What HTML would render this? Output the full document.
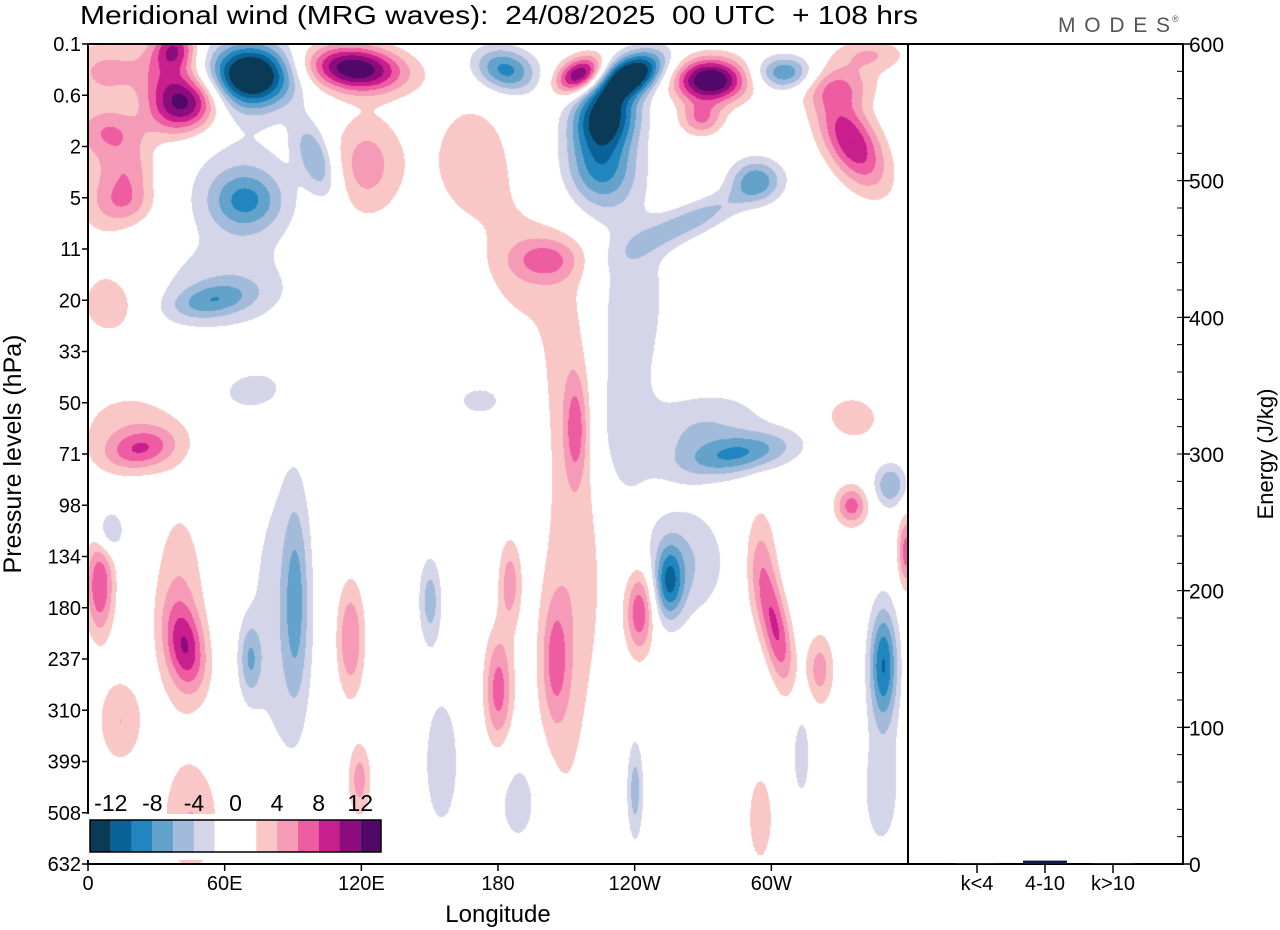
<!DOCTYPE html>
<html><head><meta charset="utf-8">
<style>
body{margin:0;background:#fff;font-family:"Liberation Sans",sans-serif;}
#wrap{position:relative;width:1280px;height:930px;overflow:hidden;}
canvas{position:absolute;left:88px;top:44px;}
svg{position:absolute;left:0;top:0;}
</style></head><body>
<div id="wrap">
<canvas id="cv" width="820" height="820"></canvas>
<svg id="sv" width="1280" height="930"></svg>
</div>
<script>
// ---- data ----
const pressureLabels=['0.1','0.6','2','5','11','20','33','50','71','98','134','180','237','310','399','508','632'];
const lonTickValues=[0,60,120,180,240,300];
const lonTickLabels=['0','60E','120E','180','120W','60W'];
const energyTicks=[0,100,200,300,400,500,600];
const energyCats=['k<4','4-10','k>10'];
const energyVals=[0.4,2.5,0.4];
const cbarLabels=['-12','-8','-4','0','4','8','12'];
const cbarLevels=[-12,-8,-4,0,4,8,12];
// wave anomaly centres: longitude (deg), level index, amplitude (m/s), width (deg), height (levels), tilt (deg)
const blobLon=[71,117,43,38,34,10,10,183,216,238,227,225,273,269,306,335,330,343,293,264,100,69,67,122,18,16,5,168,201,190,210,214,216,207,54,58,10,240,234,286,269,23,18,71,172,335,335,352,5,43,40,9,71,91,84,115,150,180,185,205,242,255,262,302,295,349,321,359,240,119,45,190,295,348,313,155,14];
const blobLev=[0.6,0.47,1.15,0.08,0.6,0.5,1.7,0.5,0.6,0.6,1.4,2.35,0.7,1.45,0.55,1.9,0.8,0.2,2.65,3.45,2.25,3.05,2.85,2.35,2.45,3.1,2.45,2.25,4.2,4.4,6.2,7.5,9.9,12.8,5.0,4.8,5.1,4.8,7.3,8.0,7.5,7.9,7.5,6.75,6.95,7.3,9.0,8.6,10.55,11.8,11.0,9.5,12.0,10.85,11.2,11.6,10.85,12.6,10.5,12.0,11.05,10.5,10.1,11.45,10.1,12.1,12.2,9.9,14.55,14.35,15.1,14.75,15.1,14.55,13.8,14.0,13.2];
const blobAmp=[-17,14,12,8,4,4,4,-9,13,-16,-12,-9,15,6,-8,10,5,4,-7,-5,-6,-6,-3,5,4,4,2.5,3,5,2.5,2.5,5,2.5,2.5,-5,-3,3,-3,-3,-7,-4,6,3,-3,-3,3,7,-6,8,7,4,-5,-5,-5,-3,6,-5,7,5,4.5,8,-8,-4,8,4,-10,5,7,-5,5,4,-3,3,-3,-3,-3,4];
const blobW=[13,15,11,6.6,8,15,11,10,8,11,10,11,11,6.6,9,8,11,11,8,20,5.3,11,18,11,8,9,11,15,11,13,9,3.5,10,9,13,22,11,11,9,18,20,11,18,10,8,11,5,5,4.4,6,8,4.4,3.5,4,11,4.4,3.5,4.4,3.5,4,4.4,4.4,13,4.4,5,4.4,4.4,2.6,2.6,3.5,9,9,5,7,3.5,7,7];
const blobH=[0.43,0.31,0.39,0.29,0.5,0.4,0.3,0.3,0.23,0.27,0.4,0.6,0.3,0.23,0.23,0.7,0.3,0.23,0.3,0.23,0.55,0.4,1.0,0.7,0.4,0.3,1.2,1.0,0.3,1.0,1.6,0.7,2.0,2.3,0.23,0.6,0.5,1.2,1.4,0.27,0.5,0.27,0.6,0.27,0.23,0.4,0.27,0.3,0.7,0.6,1.4,0.3,0.5,1.4,2.3,0.8,0.6,0.8,0.6,0.8,0.6,0.5,0.8,0.8,0.8,0.8,0.5,0.5,0.7,0.5,0.8,0.8,0.8,1.0,0.8,1.2,0.6];
const blobTilt=[0,5,-20,0,0,0,0,15,-25,-25,-30,0,0,0,0,-30,0,0,0,-25,-20,0,0,0,0,0,0,0,0,0,0,0,0,0,-10,0,0,0,0,-10,-10,-10,0,-10,0,0,0,0,0,-10,0,0,0,0,0,0,0,0,0,0,0,0,0,-10,0,0,0,0,0,0,0,0,0,0,0,0,0];

// ---- axes ----
const X0=88,X1=908,Y0=44,Y1=864;
const xLon=l=>X0+l*(X1-X0)/360;
const yLev=v=>Y0+v*(Y1-Y0)/16;
const ER0=908,ER1=1183;
const yE=e=>Y1-e*(Y1-Y0)/600;
const colors=['#0b3a56','#0a6398','#2185bf','#63a2cb','#a2bbdb','#d4d5e8','#ffffff','#f9c8c6','#f69bb7','#ee5da2','#c91e8d','#8c0c7d','#520868'];
function colorIdx(v){
  if(v<-12)return 0;if(v<-10)return 1;if(v<-8)return 2;if(v<-6)return 3;if(v<-4)return 4;if(v<-2)return 5;
  if(v<2)return 6;if(v<4)return 7;if(v<6)return 8;if(v<8)return 9;if(v<10)return 10;if(v<12)return 11;return 12;}
const rgb=colors.map(c=>[parseInt(c.substr(1,2),16),parseInt(c.substr(3,2),16),parseInt(c.substr(5,2),16)]);

// field
const cv=document.getElementById('cv');const ctx=cv.getContext('2d');
const W=820,H=820;const img=ctx.createImageData(W,H);
const field=new Float32Array(W*H);
for(let b=0;b<blobLon.length;b++){
  const cx=xLon(blobLon[b])-X0, cy=yLev(blobLev[b])-Y0;
  const sx=blobW[b]*(X1-X0)/360, sy=blobH[b]*(Y1-Y0)/16;
  const t=blobTilt[b]*Math.PI/180, c=Math.cos(t), s=Math.sin(t);
  const R=4*Math.max(sx,sy);
  const xa=Math.max(0,Math.floor(cx-R)),xb=Math.min(W-1,Math.ceil(cx+R));
  const ya=Math.max(0,Math.floor(cy-R)),yb=Math.min(H-1,Math.ceil(cy+R));
  for(let y=ya;y<=yb;y++)for(let x=xa;x<=xb;x++){
    const dx=x-cx,dy=y-cy;const u=(dx*c+dy*s)/sx,w=(-dx*s+dy*c)/sy;
    const e=0.5*(u*u+w*w);if(e<9)field[y*W+x]+=blobAmp[b]*Math.exp(-e);
  }
}
for(let i=0;i<W*H;i++){const k=rgb[colorIdx(field[i])];img.data[i*4]=k[0];img.data[i*4+1]=k[1];img.data[i*4+2]=k[2];img.data[i*4+3]=255;}
ctx.putImageData(img,0,0);

// svg
const NS='http://www.w3.org/2000/svg';const sv=document.getElementById('sv');
function el(tag,attrs,txt){const e=document.createElementNS(NS,tag);for(const k in attrs)e.setAttribute(k,attrs[k]);if(txt!==undefined)e.textContent=txt;sv.appendChild(e);return e;}
let e;
e=el('text',{x:80,y:24,'font-size':26,style:'white-space:pre',textLength:838,lengthAdjust:'spacingAndGlyphs'},'Meridional wind (MRG waves):  24/08/2025  00 UTC  + 108 hrs');


e=el('text',{x:1058,y:32,'font-size':21,fill:'#555',textLength:112},'MODES');


e=el('text',{x:1172,y:22,'font-size':9,fill:'#555'},'®');


// frames
e=el('rect',{x:X0,y:Y0,width:X1-X0,height:Y1-Y0,fill:'none',stroke:'#000','stroke-width':2});


e=el('rect',{x:ER0,y:Y0,width:ER1-ER0,height:Y1-Y0,fill:'none',stroke:'#000','stroke-width':2});


// y ticks
pressureLabels.forEach((p,i)=>{
  const y=yLev(i);
  e=el('line',{x1:X0-6,x2:X0,y1:y,y2:y,stroke:'#000','stroke-width':1.5});
  
  
  e=el('text',{x:81,y:y+7,'font-size':20,'text-anchor':'end'},p);
  
  
});
lonTickValues.forEach((l,i)=>{
  const x=xLon(l);
  e=el('line',{x1:x,x2:x,y1:Y1,y2:Y1+7,stroke:'#000','stroke-width':1.5});
  
  
  e=el('text',{x:x,y:Y1+26,'font-size':20,'text-anchor':'middle'},lonTickLabels[i]);
  
  
});
e=el('text',{x:498,y:922,'font-size':24,'text-anchor':'middle'},'Longitude');


e=el('text',{x:0,y:0,'font-size':25,'text-anchor':'middle',transform:'translate(21,454) rotate(-90)'},'Pressure levels (hPa)');


e=el('text',{x:0,y:0,'font-size':22,'text-anchor':'middle',transform:'translate(1273,454) rotate(-90)'},'Energy (J/kg)');


// energy axis
for(let v=0;v<=600;v+=20){
  const y=yE(v);
  e=el('line',{x1:ER1-6,x2:ER1,y1:y,y2:y,stroke:'#000','stroke-width':1});
  
  
}
energyTicks.forEach(v=>{
  const y=yE(v);
  e=el('line',{x1:ER1,x2:ER1+7,y1:y,y2:y,stroke:'#000','stroke-width':1.5});
  
  
  e=el('text',{x:1189,y:y+8,'font-size':21},String(v));
  
  
});
const catX=i=>977+i*68;
energyCats.forEach((c,i)=>{
  const x=catX(i);
  e=el('line',{x1:x,x2:x,y1:Y1,y2:Y1+9,stroke:'#000','stroke-width':1.5});
  
  
  e=el('text',{x:x,y:Y1+26,'font-size':20,'text-anchor':'middle'},c);
  
  
  const h=Math.max(1,Y1-yE(energyVals[i]));
  e=el('rect',{x:x-22,y:Y1-h,width:44,height:h,fill:'#0d1a4a'});
  
  
});
// colorbar
const cbX=90,cbY=820,cbU=291/14,cbH=32;
const cbStarts=[-14,-12,-10,-8,-6,-4,-2,2,4,6,8,10,12];
const cbEnds=[-12,-10,-8,-6,-4,-2,2,4,6,8,10,12,14];
const cbx=v=>cbX+(v+14)*cbU/2;
e=el('rect',{x:86,y:814,width:300,height:46,fill:'#fff'});


cbStarts.forEach((s,i)=>{
  e=el('rect',{x:cbx(s),y:cbY,width:cbx(cbEnds[i])-cbx(s),height:cbH,fill:colors[i]});
  
  
});
e=el('rect',{x:cbX,y:cbY,width:cbx(14)-cbX,height:cbH,fill:'none',stroke:'#000','stroke-width':1.5});


cbarLevels.forEach((v,i)=>{
  e=el('text',{x:cbx(v),y:811,'font-size':23,'text-anchor':'middle'},cbarLabels[i]);
  
  
});
</script>
</body></html>
